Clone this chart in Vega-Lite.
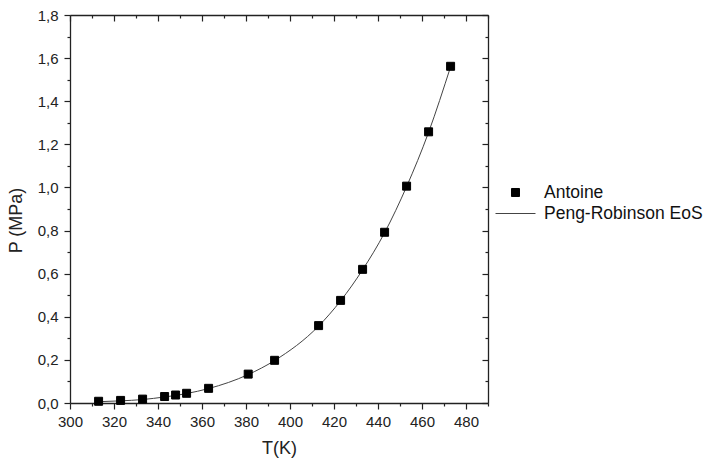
{
  "$schema": "https://vega.github.io/schema/vega-lite/v6.json",
  "autosize": {"type": "none"},
  "padding": {"left": 70, "top": 15, "right": 222, "bottom": 61},
  "width": 418,
  "height": 388,
  "background": "white",
  "config": {
    "view": {"stroke": null},
    "font": "Liberation Sans",
    "axis": {
      "domainColor": "#222",
      "tickColor": "#222",
      "labelColor": "#222",
      "titleColor": "#222",
      "grid": false,
      "labelFlush": false,
      "labelFont": "Liberation Sans",
      "titleFont": "Liberation Sans",
      "labelFontSize": 15,
      "titleFontSize": 18,
      "titleFontWeight": "normal",
      "domainWidth": 1.3,
      "tickWidth": 1.2
    },
    "legend": {
      "title": null,
      "orient": "none",
      "legendX": 434,
      "legendY": 166,
      "symbolSize": 484,
      "symbolFillColor": "black",
      "symbolStrokeColor": "#444",
      "symbolStrokeWidth": 1,
      "labelFontSize": 17.5,
      "labelColor": "#111",
      "labelFont": "Liberation Sans",
      "labelOffset": 17,
      "rowPadding": 1,
      "labelLimit": 300
    }
  },
  "datasets": {
    "pts": [
      {"T": 313, "P": 0.008, "series": "Antoine"},
      {"T": 323, "P": 0.012, "series": "Antoine"},
      {"T": 333, "P": 0.018, "series": "Antoine"},
      {"T": 343, "P": 0.030, "series": "Antoine"},
      {"T": 348, "P": 0.037, "series": "Antoine"},
      {"T": 353, "P": 0.045, "series": "Antoine"},
      {"T": 363, "P": 0.068, "series": "Antoine"},
      {"T": 381, "P": 0.134, "series": "Antoine"},
      {"T": 393, "P": 0.198, "series": "Antoine"},
      {"T": 413, "P": 0.359, "series": "Antoine"},
      {"T": 423, "P": 0.476, "series": "Antoine"},
      {"T": 433, "P": 0.620, "series": "Antoine"},
      {"T": 443, "P": 0.792, "series": "Antoine"},
      {"T": 453, "P": 1.006, "series": "Antoine"},
      {"T": 463, "P": 1.258, "series": "Antoine"},
      {"T": 473, "P": 1.562, "series": "Antoine"}
    ],
    "pr": [
      {"T": 313, "P": 0.006, "series": "Peng-Robinson EoS"},
      {"T": 323, "P": 0.010, "series": "Peng-Robinson EoS"},
      {"T": 333, "P": 0.016, "series": "Peng-Robinson EoS"},
      {"T": 343, "P": 0.028, "series": "Peng-Robinson EoS"},
      {"T": 348, "P": 0.035, "series": "Peng-Robinson EoS"},
      {"T": 353, "P": 0.044, "series": "Peng-Robinson EoS"},
      {"T": 363, "P": 0.067, "series": "Peng-Robinson EoS"},
      {"T": 381, "P": 0.132, "series": "Peng-Robinson EoS"},
      {"T": 393, "P": 0.197, "series": "Peng-Robinson EoS"},
      {"T": 413, "P": 0.357, "series": "Peng-Robinson EoS"},
      {"T": 423, "P": 0.474, "series": "Peng-Robinson EoS"},
      {"T": 433, "P": 0.618, "series": "Peng-Robinson EoS"},
      {"T": 443, "P": 0.790, "series": "Peng-Robinson EoS"},
      {"T": 453, "P": 1.004, "series": "Peng-Robinson EoS"},
      {"T": 463, "P": 1.256, "series": "Peng-Robinson EoS"},
      {"T": 473, "P": 1.560, "series": "Peng-Robinson EoS"}
    ]
  },
  "layer": [
    {
      "data": {"name": "pr"},
      "mark": {"type": "line", "strokeWidth": 1, "interpolate": "monotone"},
      "encoding": {
        "x": {
          "field": "T", "type": "quantitative",
          "scale": {"domain": [300, 490], "nice": false, "zero": false},
          "axis": {
            "orient": "top", "title": null, "labels": false,
            "values": [300,310,320,330,340,350,360,370,380,390,400,410,420,430,440,450,460,470,480,490],
            "tickSize": {"condition": {"test": "datum.value % 20 === 0", "value": -6}, "value": -3}
          }
        },
        "y": {
          "field": "P", "type": "quantitative",
          "scale": {"domain": [0, 1.8], "nice": false},
          "axis": {
            "orient": "right", "title": null, "labels": false,
            "values": [0,0.1,0.2,0.3,0.4,0.5,0.6,0.7,0.8,0.9,1.0,1.1,1.2,1.3,1.4,1.5,1.6,1.7,1.8],
            "tickSize": {"condition": {"test": "round(datum.value*10) % 2 === 0", "value": -6}, "value": -3}
          }
        },
        "color": {
          "field": "series", "type": "nominal",
          "scale": {"domain": ["Antoine", "Peng-Robinson EoS"], "range": ["black", "#444"]}
        }
      }
    },
    {
      "data": {"name": "pts"},
      "mark": {"type": "point", "filled": true, "fill": "black", "stroke": "black", "strokeWidth": 1, "opacity": 1, "size": 484},
      "encoding": {
        "x": {
          "field": "T", "type": "quantitative",
          "axis": {
            "orient": "bottom", "title": "T(K)",
            "values": [300,310,320,330,340,350,360,370,380,390,400,410,420,430,440,450,460,470,480,490],
            "labelExpr": "datum.value % 20 === 0 ? datum.label : ''",
            "tickSize": {"condition": {"test": "datum.value % 20 === 0", "value": 6}, "value": 3},
            "labelPadding": 5,
            "titlePadding": 10
          }
        },
        "y": {
          "field": "P", "type": "quantitative",
          "axis": {
            "orient": "left", "title": "P (MPa)",
            "values": [0,0.1,0.2,0.3,0.4,0.5,0.6,0.7,0.8,0.9,1.0,1.1,1.2,1.3,1.4,1.5,1.6,1.7,1.8],
            "labelExpr": "round(datum.value*10) % 2 === 0 ? replace(format(datum.value, '.1f'), '.', ',') : ''",
            "tickSize": {"condition": {"test": "round(datum.value*10) % 2 === 0", "value": 6}, "value": 3},
            "labelPadding": 6,
            "titlePadding": 12,
            "titleY": 205
          }
        },
        "shape": {
          "field": "series", "type": "nominal",
          "scale": {
            "domain": ["Antoine", "Peng-Robinson EoS"],
            "range": ["M-0.364,-0.364h0.727v0.727h-0.727z", "M-1.818,0H1.818"]
          }
        }
      }
    }
  ]
}
